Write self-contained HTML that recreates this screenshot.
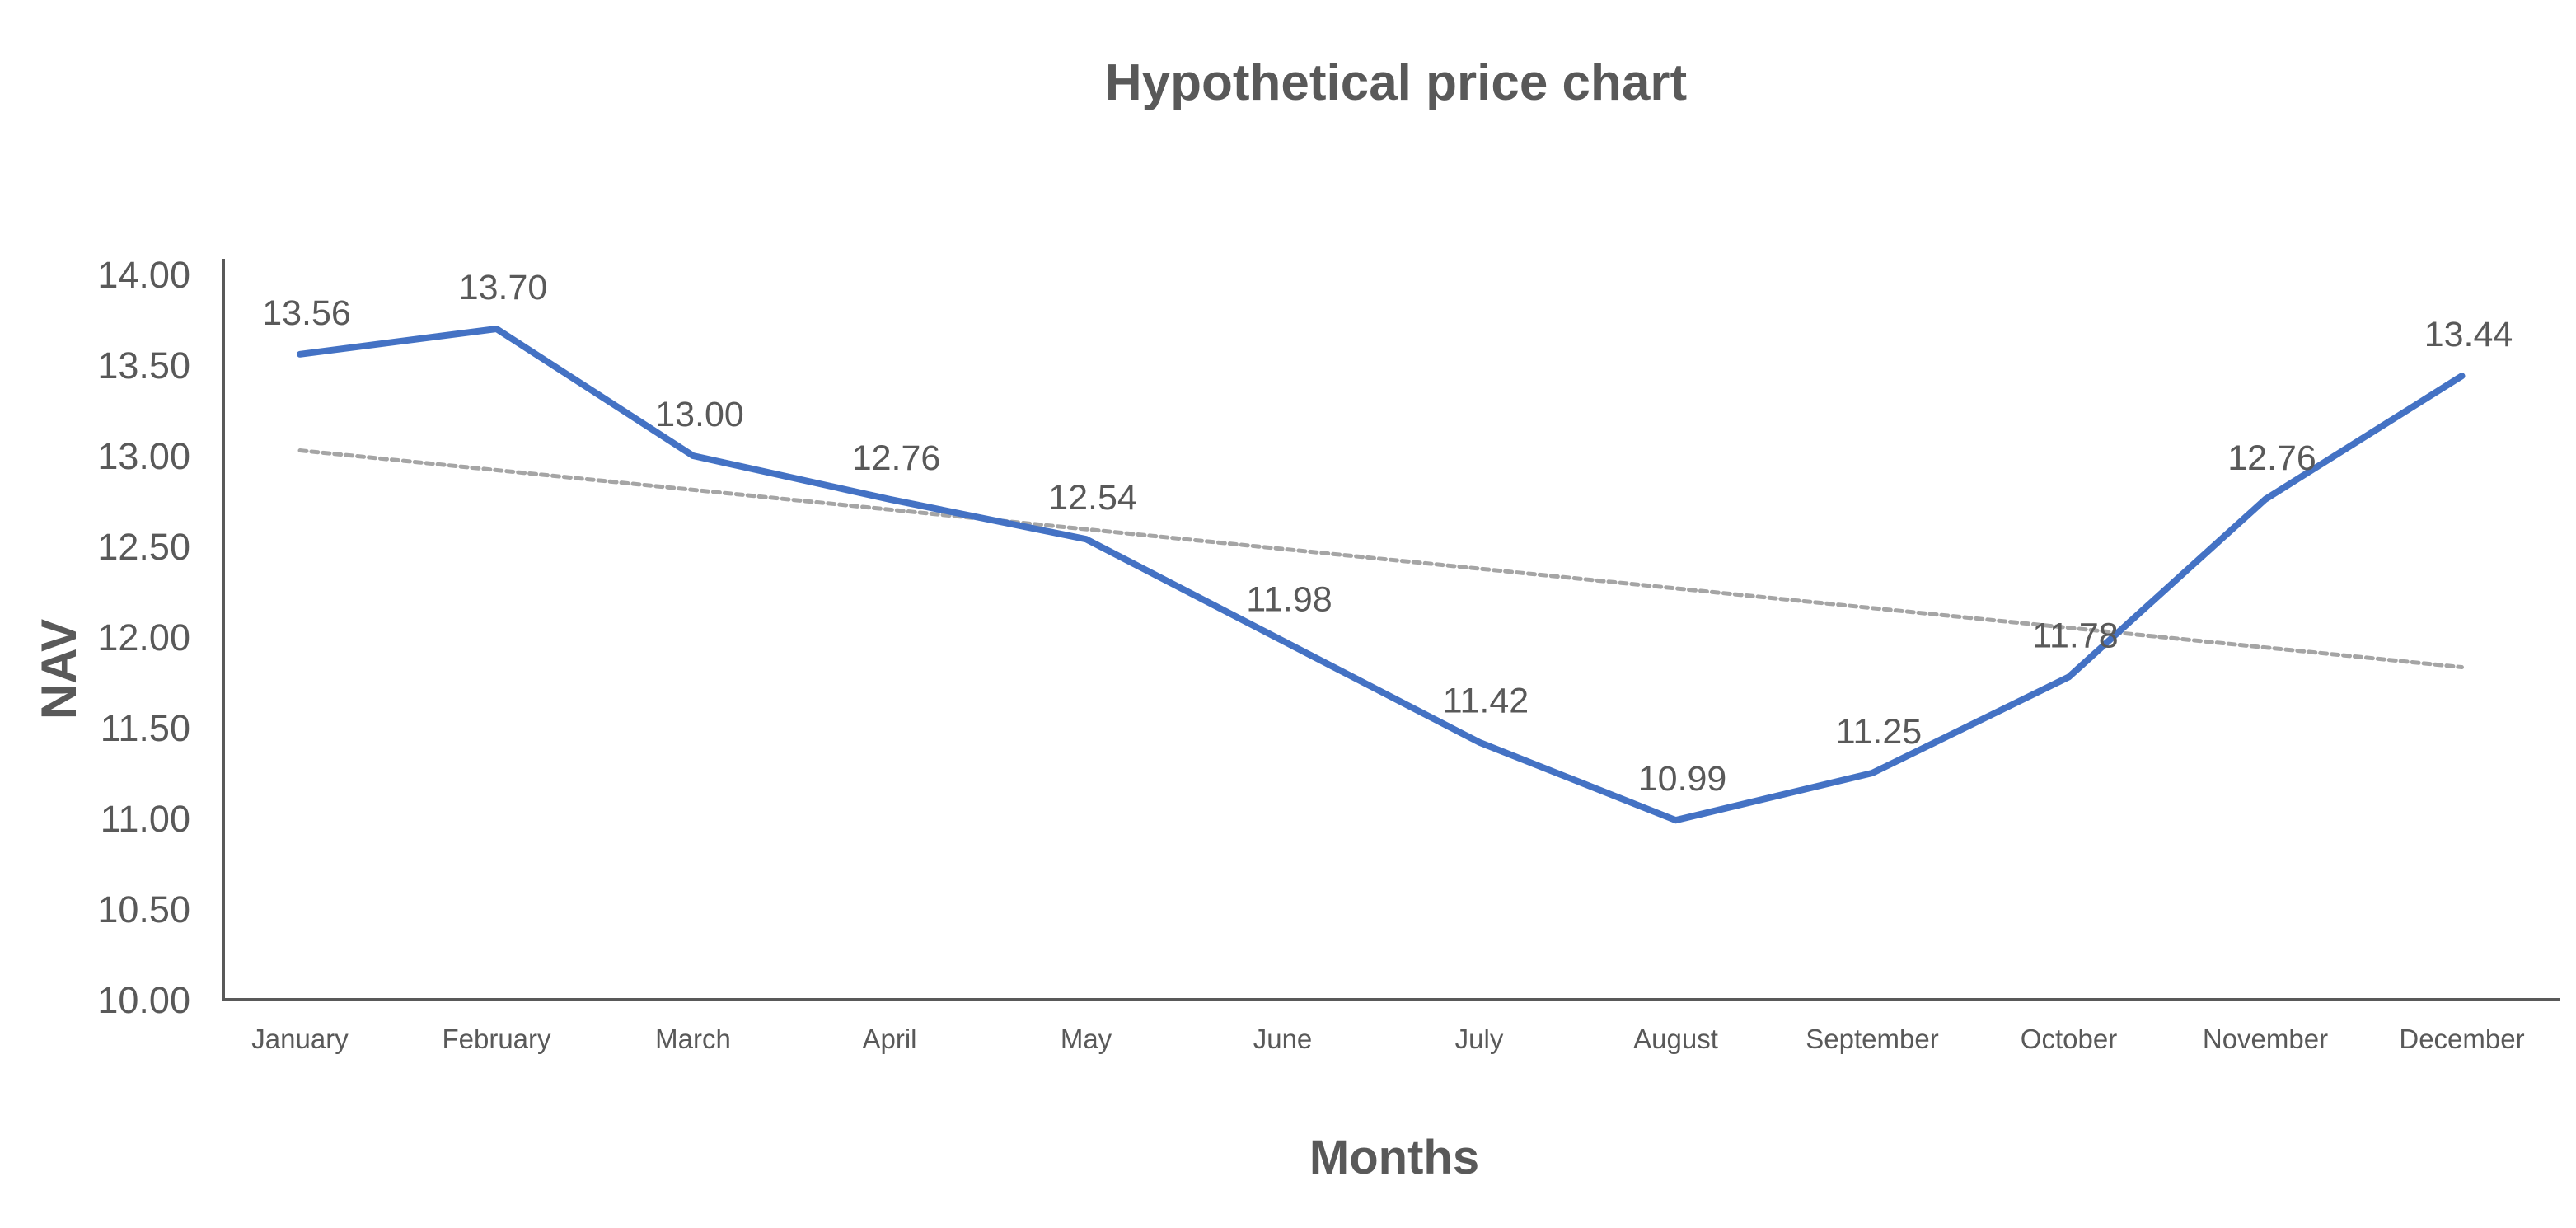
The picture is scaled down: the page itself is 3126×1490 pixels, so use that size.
<!DOCTYPE html>
<html><head><meta charset="utf-8"><style>
html,body{margin:0;padding:0;background:#fff;}
svg{display:block;font-family:"Liberation Sans",sans-serif;}
</style></head><body>
<svg id="chart" width="3126" height="1490" viewBox="0 0 3126 1490" xmlns="http://www.w3.org/2000/svg">
<text x="1694" y="121" text-anchor="middle" font-size="62" font-weight="bold" fill="#595959">Hypothetical price chart</text>
<text transform="translate(92,812) rotate(-90)" text-anchor="middle" font-size="60" font-weight="bold" fill="#595959">NAV</text>
<text x="1692" y="1424" text-anchor="middle" font-size="58" font-weight="bold" fill="#595959">Months</text>
<g id="yticks"></g><g id="xticks"></g>
<line x1="271" y1="314" x2="271" y2="1213" stroke="#595959" stroke-width="4"/>
<line x1="269" y1="1213" x2="3106" y2="1213" stroke="#595959" stroke-width="4"/>
<g id="marks"></g>
</svg>
<script>
const months = ["January","February","March","April","May","June","July","August","September","October","November","December"];
const navValues = [13.56,13.70,13.00,12.76,12.54,11.98,11.42,10.99,11.25,11.78,12.76,13.44];
const yTickLabels = ["10.00","10.50","11.00","11.50","12.00","12.50","13.00","13.50","14.00"];
const yMin = 10, yMax = 14;
const NS = "http://www.w3.org/2000/svg";
function xPos(i){ return 364 + i*238.5; }
function yPos(v){ return 1213 - (v - yMin)/(yMax - yMin)*880; }
function mk(tag, attrs, parent){ const e=document.createElementNS(NS,tag); for(const k in attrs) e.setAttribute(k,attrs[k]); parent.appendChild(e); return e; }
const yt=document.getElementById('yticks'), xt=document.getElementById('xticks'), marks=document.getElementById('marks');
yTickLabels.forEach(t=>{
  const e=mk('text',{x:231,y:yPos(parseFloat(t))+16,'text-anchor':'end','font-size':'45',fill:'#595959'},yt);
  
  
  e.textContent=t;
});
months.forEach((m,i)=>{
  const e=mk('text',{x:xPos(i),y:1272,'text-anchor':'middle','font-size':'33',fill:'#595959'},xt);
  
  
  e.textContent=m;
});
// linear trendline (least squares)
const n=navValues.length, mx=(n-1)/2, my=navValues.reduce((a,b)=>a+b,0)/n;
let sxy=0,sxx=0; navValues.forEach((v,i)=>{sxy+=(i-mx)*(v-my);sxx+=(i-mx)*(i-mx);});
const slope=sxy/sxx, icpt=my-slope*mx;
const tl=mk('line',{x1:xPos(0),y1:yPos(icpt),x2:xPos(n-1),y2:yPos(icpt+slope*(n-1)),stroke:'#A5A5A5','stroke-width':'5','stroke-dasharray':'8 6','stroke-linecap':'round'},marks);


const pts=navValues.map((v,i)=>xPos(i)+','+yPos(v)).join(' ');
const pl=mk('polyline',{points:pts,fill:'none',stroke:'#4472C4','stroke-width':'8','stroke-linejoin':'round','stroke-linecap':'round'},marks);


navValues.forEach((v,i)=>{
  const e=mk('text',{x:xPos(i)+8,y:yPos(v)-36,'text-anchor':'middle','font-size':'43',fill:'#595959'},marks);
  
  
  e.textContent=v.toFixed(2);
});
</script>
</body></html>
